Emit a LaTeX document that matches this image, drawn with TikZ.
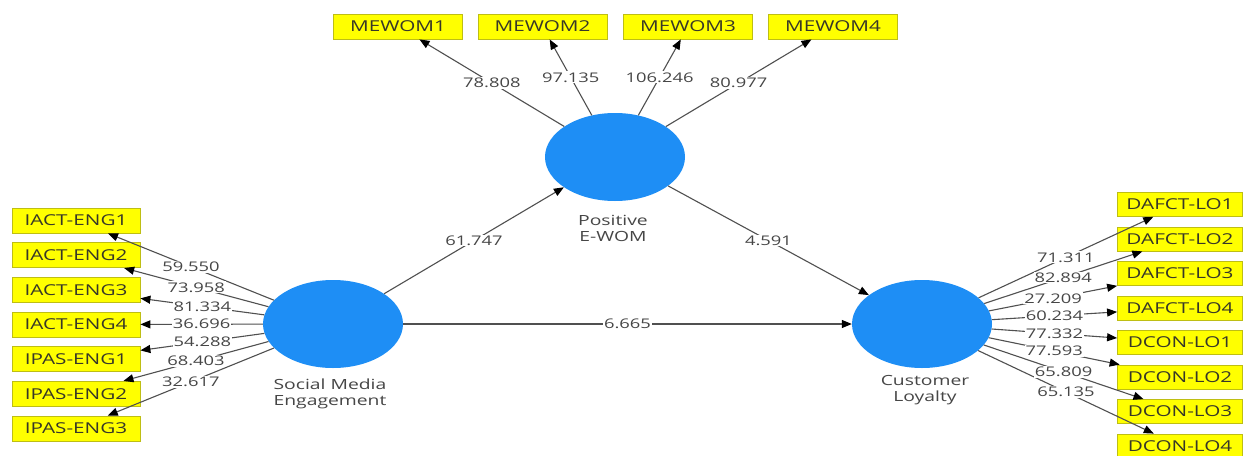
\documentclass[tikz,border=0pt]{standalone}
\usepackage{fontspec}
\setmainfont{Open Sans}[FakeStretch=1.38]
\usetikzlibrary{shapes.geometric,arrows.meta}
\definecolor{lvblue}{RGB}{30,142,245}
\definecolor{indyellow}{RGB}{255,255,0}
\definecolor{indborder}{RGB}{190,190,20}
\definecolor{txtgrey}{RGB}{70,70,70}
\definecolor{boxtxt}{RGB}{55,55,40}
\definecolor{linegrey}{RGB}{80,80,80}
\begin{document}
\begin{tikzpicture}[x=1pt,y=-1pt,
  lv/.style={ellipse, fill=lvblue, minimum width=140pt, minimum height=88pt, inner sep=0pt},
  ind/.style={rectangle, fill=indyellow, draw=indborder, line width=0.8pt, minimum height=25pt, inner sep=0pt, font=\fontsize{15}{17}\selectfont, text=boxtxt},
  indl/.style={ind, minimum width=128pt},
  indt/.style={ind, minimum width=129pt},
  indr/.style={ind, minimum width=125pt, minimum height=24pt},
  conn/.style={draw=linegrey, line width=1.1pt, -{Triangle[length=10pt,width=8pt,color=black]}},
  lbl/.style={fill=white, inner sep=1pt, text=txtgrey, font=\fontsize{13.3}{15}\selectfont},
  lvname/.style={align=center, text=txtgrey, font=\fontsize{14}{16}\selectfont}
]
\useasboundingbox (0,0) rectangle (1247,455);
\fill[white] (0,0) rectangle (1247,455);

% latent variables
\node[lv] (sme) at (333,324) {};
\node[lv] (pew) at (615,157) {};
\node[lv] (cl) at (922,324) {};
\node[lvname] (smename) at (330,394) {Social Media\\Engagement};
\node[lvname] (pewname) at (613,228.7) {Positive\\E-WOM};
\node[lvname] (clname) at (925,390.5) {Customer\\Loyalty};

% left indicators
\node[indl] (l1) at (76,220.5) {IACT-ENG1};
\node[indl] (l2) at (76,255.2) {IACT-ENG2};
\node[indl] (l3) at (76,289.8) {IACT-ENG3};
\node[indl] (l4) at (76,324.5) {IACT-ENG4};
\node[indl] (l5) at (76,359.2) {IPAS-ENG1};
\node[indl] (l6) at (76,393.8) {IPAS-ENG2};
\node[indl] (l7) at (76,428.5) {IPAS-ENG3};

% top indicators
\node[indt] (t1) at (398,26.5) {MEWOM1};
\node[indt] (t2) at (542.5,26.5) {MEWOM2};
\node[indt] (t3) at (688,26.5) {MEWOM3};
\node[indt] (t4) at (833,26.5) {MEWOM4};

% right indicators
\node[indr] (r1) at (1180,204.5) {DAFCT-LO1};
\node[indr] (r2) at (1180,239) {DAFCT-LO2};
\node[indr] (r3) at (1180,273.5) {DAFCT-LO3};
\node[indr] (r4) at (1180,308) {DAFCT-LO4};
\node[indr] (r5) at (1180,342.5) {DCON-LO1};
\node[indr] (r6) at (1180,377) {DCON-LO2};
\node[indr] (r7) at (1180,411.5) {DCON-LO3};
\node[indr] (r8) at (1180,446) {DCON-LO4};

% connectors
\foreach \i in {1,...,7} \draw[conn] (sme) -- (l\i);
\foreach \i in {1,...,4} \draw[conn] (pew) -- (t\i);
\foreach \i in {1,...,8} \draw[conn] (cl) -- (r\i);
\draw[conn] (sme) -- (pew);
\draw[conn] (pew) -- (cl);
\draw[conn] (sme) -- (cl);

% labels
\foreach \i/\v in {1/59.550,2/73.958,3/81.334,4/36.696,5/54.288,6/68.403,7/32.617}
  \path (sme) -- node[lbl] {\v} (l\i);
\foreach \i/\v in {1/78.808,2/97.135,3/106.246,4/80.977}
  \path (pew) -- node[lbl] {\v} (t\i);
\foreach \i/\v in {1/71.311,2/82.894,3/27.209,4/60.234,5/77.332,6/77.593,7/65.809,8/65.135}
  \path (cl) -- node[lbl] {\v} (r\i);
\path (sme) -- node[lbl] {61.747} (pew);
\path (pew) -- node[lbl] {4.591} (cl);
\path (sme) -- node[lbl] {6.665} (cl);
\end{tikzpicture}
\end{document}
